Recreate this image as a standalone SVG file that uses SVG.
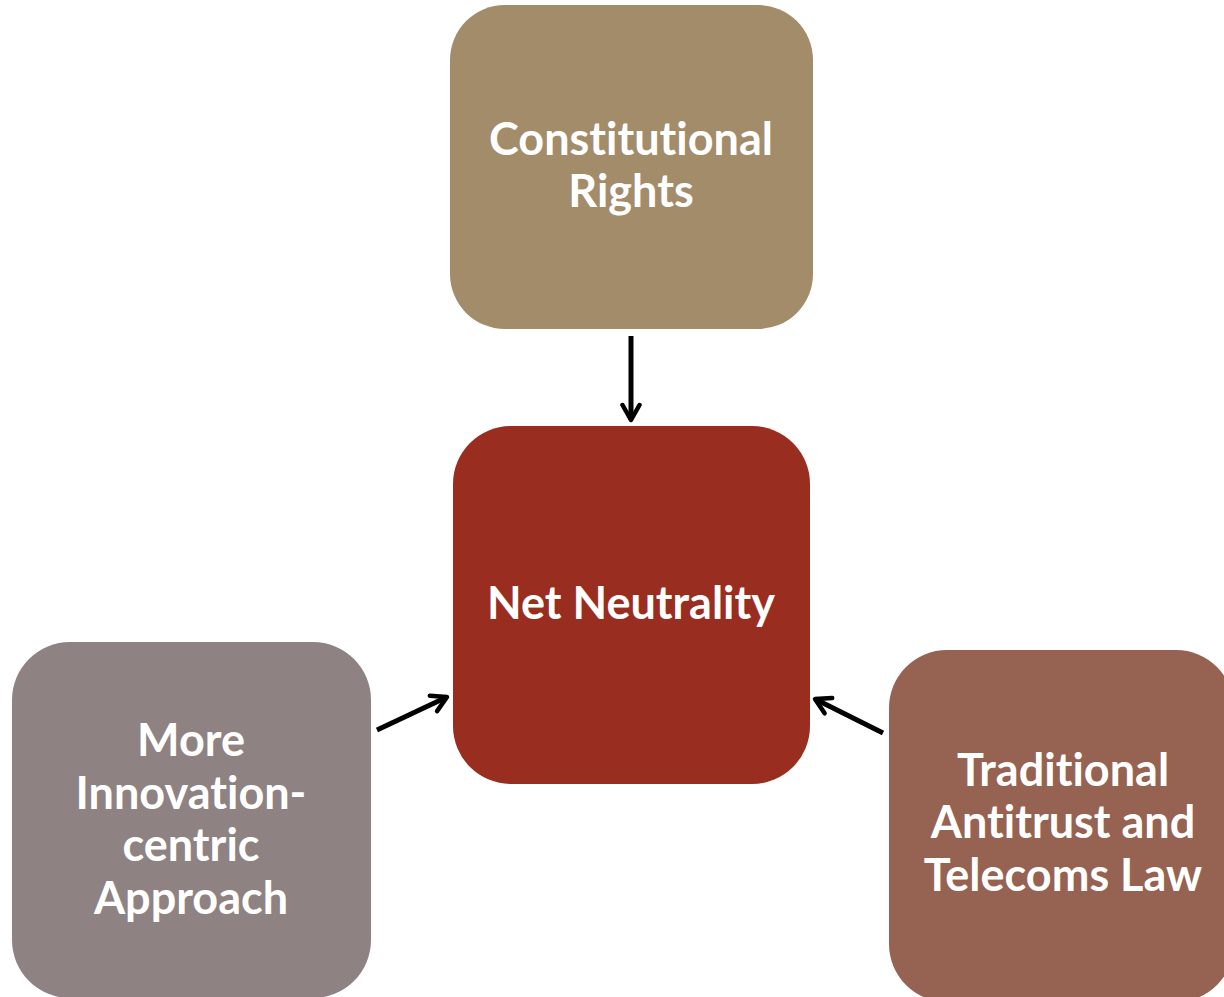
<svg xmlns="http://www.w3.org/2000/svg" width="1224" height="997" viewBox="0 0 1224 997">
<defs>
<style>
.lbl{font-family:Lato,"Open Sans","Liberation Sans",sans-serif;font-weight:700;font-size:45px;fill:#ffffff;text-anchor:middle;font-variant-ligatures:none;font-feature-settings:"liga" 0}
.conn{stroke:#000;stroke-width:5;fill:none}
</style>
<marker id="ah" viewBox="0 0 22 22" refX="19" refY="11" markerWidth="22" markerHeight="22" markerUnits="userSpaceOnUse" orient="auto">
<path d="M4,2.5 L19,11 L4,19.5" fill="none" stroke="#000" stroke-width="4.5" stroke-linecap="round" stroke-linejoin="round"/>
</marker>
</defs>
<rect width="1224" height="997" fill="#ffffff"/>
<g id="constitutional">
<rect x="450" y="5" width="363" height="324" rx="55" fill="#A38C6A"/>
<text class="lbl" x="631" y="155">Constitutional</text>
<text class="lbl" x="631" y="207">Rights</text>
</g>
<g id="net-neutrality">
<rect x="453" y="426" width="357" height="358" rx="58" fill="#992D1F"/>
<text class="lbl" x="631" y="619">Net Neutrality</text>
</g>
<g id="innovation">
<rect x="12" y="642" width="359" height="356" rx="58" fill="#8F8282"/>
<text class="lbl" x="191" y="756">More</text>
<text class="lbl" x="191" y="809">Innovation-</text>
<text class="lbl" x="191" y="861">centric</text>
<text class="lbl" x="191" y="914">Approach</text>
</g>
<g id="antitrust">
<rect x="889" y="650" width="345" height="352" rx="58" fill="#966251"/>
<text class="lbl" x="1063" y="786">Traditional</text>
<text class="lbl" x="1063" y="838">Antitrust and</text>
<text class="lbl" x="1063" y="891">Telecoms Law</text>
</g>
<g id="connectors">
<line class="conn" x1="631" y1="336" x2="631" y2="420" marker-end="url(#ah)"/>
<line class="conn" x1="377" y1="730" x2="447" y2="697" marker-end="url(#ah)"/>
<line class="conn" x1="883" y1="733" x2="815" y2="699" marker-end="url(#ah)"/>
</g>
</svg>
